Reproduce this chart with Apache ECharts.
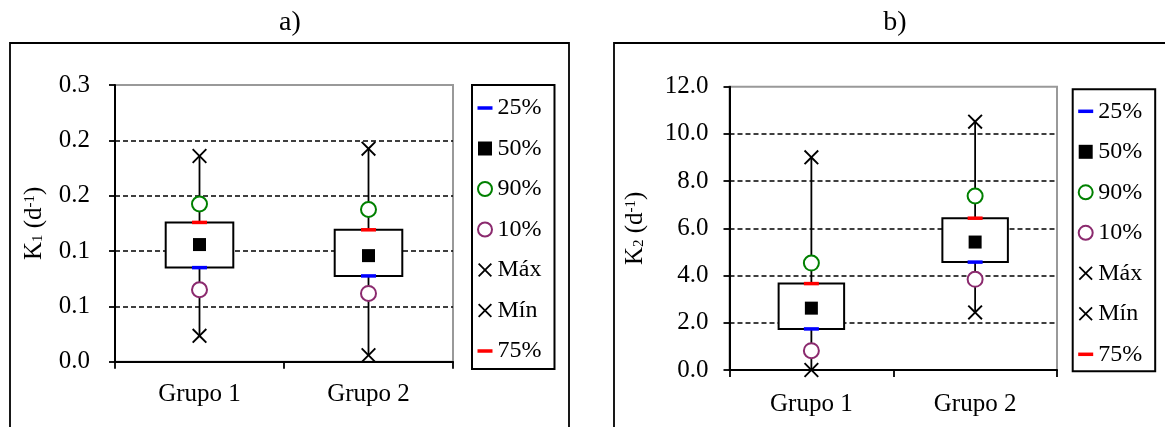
<!DOCTYPE html>
<html>
<head>
<meta charset="utf-8">
<script src="https://cdn.jsdelivr.net/npm/echarts@6/dist/echarts.min.js"></script>
<style>
  html, body { margin: 0; padding: 0; background: #fff; }
  #chart { width: 1165px; height: 427px; }
</style>
</head>
<body>
<div id="chart"></div>
<script>
// Groups on the horizontal axis
const categories = ['Grupo 1', 'Grupo 2'];

// Panel a) – K1 percentiles per group (d^-1)
const k1P25 = [0.102, 0.093];
const k1P50 = [0.127, 0.115];
const k1P75 = [0.151, 0.143];
const k1P90 = [0.171, 0.165];
const k1P10 = [0.078, 0.074];
const k1Max = [0.223, 0.231];
const k1Min = [0.028, 0.007];
const k1TickLabels = ['0.0', '0.1', '0.1', '0.2', '0.2', '0.3'];

// Panel b) – K2 percentiles per group (d^-1)
const k2P25 = [1.74, 4.57];
const k2P50 = [2.62, 5.42];
const k2P75 = [3.66, 6.43];
const k2P90 = [4.53, 7.37];
const k2P10 = [0.82, 3.84];
const k2Max = [9.01, 10.52];
const k2Min = [0.0, 2.44];
const k2TickLabels = ['0.0', '2.0', '4.0', '6.0', '8.0', '10.0', '12.0'];

const legendNames = ['25%', '50%', '90%', '10%', 'Máx', 'Mín', '75%'];

const FONT = 'Liberation Serif';
const DASH = 'path://M0,0h15v3.5h-15z';
const SQUARE = 'path://M0,0h10v10h-10z';
const CROSS = 'path://M0,1.8L1.8,0L10,8.2L18.2,0L20,1.8L11.8,10L20,18.2L18.2,20L10,11.8L1.8,20L0,18.2L8.2,10Z';

// whisker (min..max) with a white box from the 25th to the 75th percentile
function renderBox(params, api) {
  const i = api.value(0);
  const lo = api.coord([i, api.value(1)]);
  const hi = api.coord([i, api.value(2)]);
  const q1 = api.coord([i, api.value(3)]);
  const q3 = api.coord([i, api.value(4)]);
  const bw = api.size([1, 0])[0] * 0.4;
  return {
    type: 'group',
    children: [
      { type: 'line', shape: { x1: lo[0], y1: lo[1], x2: hi[0], y2: hi[1] },
        style: { stroke: '#000', lineWidth: 1.8 } },
      { type: 'rect', shape: { x: q3[0] - bw / 2, y: q3[1], width: bw, height: q1[1] - q3[1] },
        style: { fill: '#fff', stroke: '#000', lineWidth: 2 } }
    ]
  };
}

function panelSeries(idx, p25, p50, p75, p90, p10, max, min) {
  const axes = { xAxisIndex: idx, yAxisIndex: idx };
  const base = Object.assign({ type: 'scatter', z: 3, clip: false }, axes);
  return [
    Object.assign({
      type: 'custom', z: 2, renderItem: renderBox,
      data: categories.map((c, i) => [i, min[i], max[i], p25[i], p75[i]]),
      encode: { x: 0, y: [1, 2, 3, 4] }
    }, axes),
    Object.assign({}, base, { name: '25%', data: p25, symbol: 'rect', symbolSize: [15, 3.5],
      itemStyle: { color: '#0000ff', opacity: 1 } }),
    Object.assign({}, base, { name: '75%', data: p75, symbol: 'rect', symbolSize: [15, 3.5],
      itemStyle: { color: '#ff0000', opacity: 1 } }),
    Object.assign({}, base, { name: '50%', data: p50, symbol: 'rect', symbolSize: 13,
      itemStyle: { color: '#000', opacity: 1 } }),
    Object.assign({}, base, { name: '90%', data: p90, symbol: 'emptyCircle', symbolSize: 15,
      itemStyle: { color: '#008000', borderWidth: 2, opacity: 1 } }),
    Object.assign({}, base, { name: '10%', data: p10, symbol: 'emptyCircle', symbolSize: 15,
      itemStyle: { color: '#8b2a6e', borderWidth: 2, opacity: 1 } }),
    Object.assign({}, base, { name: 'Máx', data: max, symbol: CROSS, symbolSize: 15,
      itemStyle: { color: '#000', opacity: 1 } }),
    Object.assign({}, base, { name: 'Mín', data: min, symbol: CROSS, symbolSize: 15,
      itemStyle: { color: '#000', opacity: 1 } })
  ];
}

function legendFor(left, top, padding) {
  const icons = { '25%': DASH, '50%': SQUARE, '90%': 'emptyCircle', '10%': 'emptyCircle',
                  'Máx': CROSS, 'Mín': CROSS, '75%': DASH };
  return {
    orient: 'vertical', left: left, top: top, padding: padding,
    itemWidth: 15, itemHeight: 14, itemGap: 16.5,
    borderColor: '#000', borderWidth: 2, backgroundColor: '#fff',
    selectedMode: false,
    textStyle: { fontFamily: FONT, fontSize: 24, color: '#000', lineHeight: 24 },
    data: legendNames.map(n => ({ name: n, icon: icons[n] }))
  };
}

function yAxisFor(idx, max, interval, labels, nameTop, nameSub, nameGap, labelMargin) {
  return {
    type: 'value', gridIndex: idx, min: 0, max: max, interval: interval,
    name: '{t|' + nameTop + '}{s|' + nameSub + '}{t| (d}{p|-1}{t|)}',
    nameLocation: 'middle', nameGap: nameGap, nameRotate: 90,
    nameTextStyle: {
      color: '#000',
      rich: {
        t: { fontFamily: FONT, fontSize: 25, color: '#000' },
        s: { fontFamily: FONT, fontSize: 15, color: '#000', padding: [8, 0, 0, 0] },
        p: { fontFamily: FONT, fontSize: 15, color: '#000', padding: [0, 0, 8, 0] }
      }
    },
    axisLine: { show: true, lineStyle: { color: '#000', width: 2 } },
    axisTick: { show: true, length: 6, lineStyle: { color: '#000', width: 1.8 } },
    axisLabel: {
      fontFamily: FONT, fontSize: 25, color: '#000', margin: labelMargin,
      formatter: (v, i) => labels[i]
    },
    splitLine: {
      show: true, showMinLine: false, showMaxLine: false,
      lineStyle: { color: '#000', width: 1.6, type: [5, 3] }
    }
  };
}

function xAxisFor(idx, labelMargin) {
  return {
    type: 'category', gridIndex: idx, data: categories, boundaryGap: true,
    axisLine: { show: true, lineStyle: { color: '#000', width: 2 } },
    axisTick: { show: true, length: 7, lineStyle: { color: '#000', width: 1.8 } },
    axisLabel: { fontFamily: FONT, fontSize: 25, color: '#000', margin: labelMargin }
  };
}

const chart = echarts.init(document.getElementById('chart'), null, { renderer: 'canvas' });
chart.setOption({
  backgroundColor: '#fff',
  animation: false,
  title: [
    { text: 'a)', left: 290, textAlign: 'center', top: 9, padding: 0,
      textStyle: { fontFamily: FONT, fontSize: 28, fontWeight: 'normal', color: '#000' } },
    { text: 'b)', left: 895, textAlign: 'center', top: 9, padding: 0,
      textStyle: { fontFamily: FONT, fontSize: 28, fontWeight: 'normal', color: '#000' } }
  ],
  graphic: [
    { type: 'rect', silent: true, z: -10,
      shape: { x: 10, y: 43, width: 559, height: 420 },
      style: { fill: 'none', stroke: '#000', lineWidth: 1.8 } },
    { type: 'rect', silent: true, z: -10,
      shape: { x: 614, y: 43, width: 620, height: 420 },
      style: { fill: 'none', stroke: '#000', lineWidth: 1.8 } }
  ],
  grid: [
    { left: 115, top: 85, width: 338, height: 276.7,
      show: true, borderColor: '#999', borderWidth: 2, backgroundColor: 'transparent' },
    { left: 729.5, top: 86.7, width: 327.5, height: 283.3,
      show: true, borderColor: '#999', borderWidth: 2, backgroundColor: 'transparent' }
  ],
  legend: [
    legendFor(472, 85, [11, 13, 6, 5]),
    legendFor(1072.7, 89.3, [10, 13, 5, 5])
  ],
  xAxis: [xAxisFor(0, 20), xAxisFor(1, 22)],
  yAxis: [
    yAxisFor(0, 0.3, 0.06, k1TickLabels, 'K', '1', 68, 25),
    yAxisFor(1, 12, 2, k2TickLabels, 'K', '2', 82, 21)
  ],
  series: [].concat(
    panelSeries(0, k1P25, k1P50, k1P75, k1P90, k1P10, k1Max, k1Min),
    panelSeries(1, k2P25, k2P50, k2P75, k2P90, k2P10, k2Max, k2Min)
  )
});
</script>
</body>
</html>
